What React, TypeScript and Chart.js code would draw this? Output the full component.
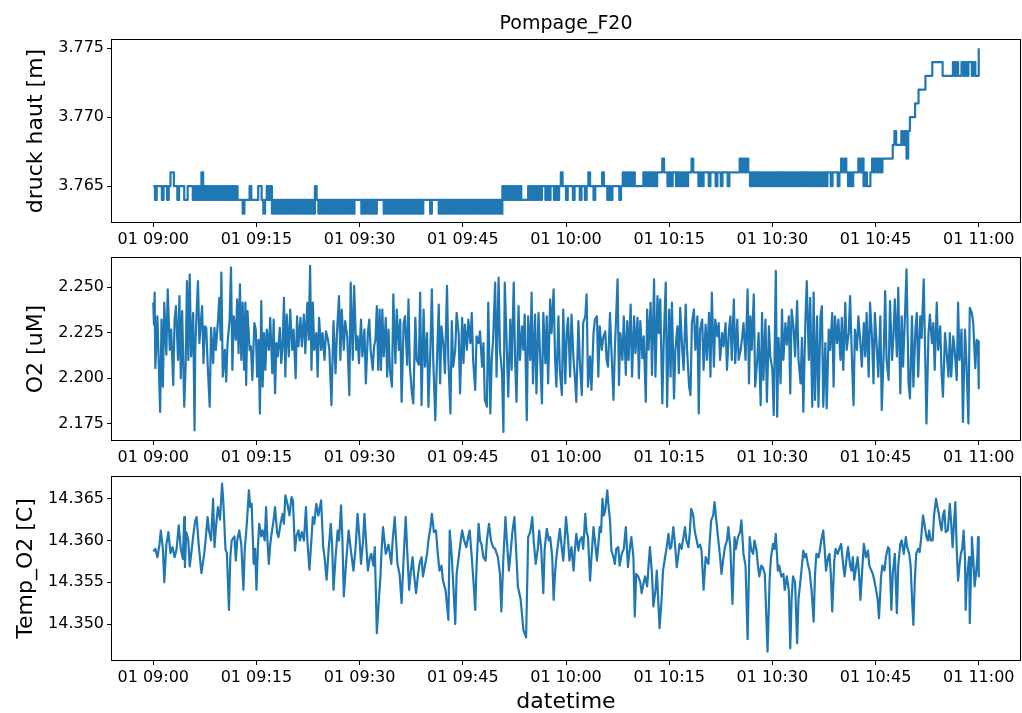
import { useEffect, useRef } from "react";
import { Chart, registerables } from "chart.js";

Chart.register(...registerables);

// ---------------- data ----------------
const chartTitle = "Pompage_F20";
const dayLabel = "01";
const startHour = 9;
const xTickMinutes = [0, 15, 30, 45, 60, 75, 90, 105, 120];

const druckLabel = "druck haut [m]";
const o2Label = "O2 [uM]";
const tempLabel = "Temp_O2 [C]";
const xLabel = "datetime";

const druckTicks = [3.765, 3.77, 3.775];
const o2Ticks = [2.175, 2.2, 2.225, 2.25];
const tempTicks = [14.35, 14.355, 14.36, 14.365];

// druck haut sampled every 15 s starting at 09:00 (one line = 2 minutes)
const druckStepMinutes = 0.25;
const druckHaut = [
  3.765, 3.764, 3.765, 3.765, 3.765, 3.764, 3.765, 3.765,
  3.764, 3.765, 3.766, 3.766, 3.765, 3.765, 3.764, 3.765,
  3.765, 3.765, 3.764, 3.764, 3.765, 3.765, 3.765, 3.764,
  3.765, 3.764, 3.765, 3.764, 3.766, 3.764, 3.765, 3.764,
  3.765, 3.764, 3.765, 3.764, 3.765, 3.764, 3.765, 3.764,
  3.765, 3.764, 3.765, 3.764, 3.765, 3.764, 3.765, 3.764,
  3.765, 3.764, 3.764, 3.764, 3.763, 3.764, 3.764, 3.764,
  3.765, 3.764, 3.764, 3.764, 3.764, 3.765, 3.765, 3.764,
  3.763, 3.764, 3.765, 3.764, 3.765, 3.763, 3.764, 3.763,
  3.764, 3.763, 3.764, 3.763, 3.764, 3.763, 3.764, 3.763,
  3.764, 3.763, 3.764, 3.763, 3.764, 3.763, 3.764, 3.763,
  3.764, 3.763, 3.764, 3.763, 3.764, 3.763, 3.765, 3.764,
  3.763, 3.764, 3.763, 3.764, 3.763, 3.764, 3.763, 3.764,
  3.763, 3.764, 3.763, 3.764, 3.763, 3.764, 3.763, 3.764,
  3.763, 3.764, 3.763, 3.764, 3.763, 3.764, 3.764, 3.764,
  3.764, 3.763, 3.764, 3.763, 3.764, 3.763, 3.764, 3.763,
  3.764, 3.763, 3.764, 3.764, 3.764, 3.764, 3.763, 3.764,
  3.763, 3.764, 3.763, 3.764, 3.763, 3.764, 3.763, 3.764,
  3.763, 3.764, 3.763, 3.764, 3.763, 3.764, 3.763, 3.764,
  3.763, 3.764, 3.763, 3.764, 3.763, 3.764, 3.764, 3.764,
  3.764, 3.763, 3.764, 3.764, 3.764, 3.764, 3.763, 3.764,
  3.763, 3.764, 3.763, 3.764, 3.763, 3.764, 3.763, 3.764,
  3.763, 3.764, 3.763, 3.764, 3.763, 3.764, 3.763, 3.764,
  3.763, 3.764, 3.763, 3.764, 3.763, 3.764, 3.763, 3.764,
  3.763, 3.764, 3.763, 3.764, 3.763, 3.764, 3.763, 3.764,
  3.763, 3.764, 3.763, 3.765, 3.764, 3.765, 3.764, 3.765,
  3.764, 3.765, 3.764, 3.765, 3.764, 3.765, 3.764, 3.764,
  3.764, 3.764, 3.765, 3.764, 3.765, 3.764, 3.765, 3.764,
  3.765, 3.764, 3.765, 3.765, 3.764, 3.765, 3.764, 3.765,
  3.765, 3.764, 3.765, 3.764, 3.765, 3.766, 3.765, 3.765,
  3.764, 3.765, 3.765, 3.765, 3.764, 3.765, 3.765, 3.765,
  3.764, 3.765, 3.765, 3.764, 3.765, 3.766, 3.765, 3.765,
  3.764, 3.765, 3.765, 3.765, 3.765, 3.766, 3.765, 3.765,
  3.764, 3.765, 3.764, 3.765, 3.765, 3.765, 3.765, 3.764,
  3.765, 3.766, 3.765, 3.766, 3.765, 3.766, 3.765, 3.766,
  3.765, 3.765, 3.765, 3.765, 3.765, 3.766, 3.765, 3.766,
  3.765, 3.766, 3.765, 3.766, 3.765, 3.766, 3.766, 3.766,
  3.767, 3.766, 3.766, 3.765, 3.766, 3.765, 3.766, 3.766,
  3.765, 3.766, 3.765, 3.766, 3.765, 3.766, 3.765, 3.766,
  3.766, 3.767, 3.766, 3.766, 3.766, 3.765, 3.766, 3.765,
  3.766, 3.766, 3.766, 3.765, 3.766, 3.766, 3.766, 3.765,
  3.766, 3.766, 3.765, 3.766, 3.766, 3.766, 3.765, 3.766,
  3.766, 3.766, 3.766, 3.766, 3.766, 3.767, 3.766, 3.767,
  3.766, 3.767, 3.766, 3.765, 3.766, 3.765, 3.766, 3.765,
  3.766, 3.765, 3.766, 3.765, 3.766, 3.765, 3.766, 3.765,
  3.766, 3.765, 3.766, 3.765, 3.766, 3.765, 3.766, 3.765,
  3.766, 3.765, 3.766, 3.765, 3.766, 3.765, 3.766, 3.765,
  3.766, 3.765, 3.766, 3.765, 3.766, 3.765, 3.766, 3.765,
  3.766, 3.765, 3.766, 3.765, 3.766, 3.765, 3.766, 3.765,
  3.766, 3.766, 3.765, 3.766, 3.766, 3.766, 3.765, 3.766,
  3.767, 3.766, 3.767, 3.766, 3.765, 3.766, 3.765, 3.766,
  3.766, 3.766, 3.767, 3.766, 3.767, 3.765, 3.766, 3.765,
  3.765, 3.766, 3.767, 3.766, 3.767, 3.766, 3.767, 3.766,
  3.767, 3.767, 3.767, 3.767, 3.767, 3.767, 3.768, 3.769,
  3.768, 3.768, 3.768, 3.769, 3.768, 3.769, 3.767, 3.769,
  3.77, 3.77, 3.77, 3.771, 3.771, 3.772, 3.772, 3.772,
  3.772, 3.773, 3.773, 3.773, 3.773, 3.774, 3.774, 3.774,
  3.774, 3.774, 3.774, 3.773, 3.773, 3.773, 3.773, 3.773,
  3.773, 3.774, 3.773, 3.774, 3.773, 3.773, 3.774, 3.773,
  3.774, 3.773, 3.774, 3.774, 3.773, 3.774, 3.773, 3.773,
  3.775,
];

const o2Minutes = [
  0.0, 0.1, 0.2, 0.3, 0.6, 1.0, 1.2, 1.4, 1.6, 1.9,
  2.1, 2.4, 2.6, 2.9, 3.1, 3.3, 3.6, 3.8, 4.0, 4.2,
  4.5, 4.7, 4.9, 5.1, 5.3, 5.5, 5.8, 6.0, 6.1, 6.3,
  6.5, 6.7, 6.9, 7.1, 7.3, 7.5, 7.7, 7.9, 8.2, 8.4,
  8.7, 8.9, 9.1, 9.4, 9.6, 9.8, 9.9, 10.1, 10.4, 10.6,
  10.8, 11.1, 11.3, 11.5, 11.7, 12.0, 12.2, 12.4, 12.6, 12.8,
  13.0, 13.2, 13.4, 13.5, 13.7, 14.0, 14.2, 14.4, 14.7, 14.9,
  15.1, 15.3, 15.5, 15.7, 15.9, 16.1, 16.3, 16.5, 16.8, 17.0,
  17.3, 17.5, 17.7, 17.9, 18.1, 18.4, 18.6, 18.8, 19.0, 19.2,
  19.4, 19.7, 19.9, 20.2, 20.4, 20.7, 20.9, 21.1, 21.4, 21.6,
  21.9, 22.1, 22.4, 22.6, 22.8, 23.0, 23.2, 23.4, 23.7, 23.9,
  24.1, 24.4, 24.6, 24.9, 25.1, 25.4, 25.6, 25.9, 26.2, 26.5,
  26.7, 27.0, 27.2, 27.4, 27.7, 27.9, 28.2, 28.5, 28.7, 29.0,
  29.2, 29.5, 29.7, 29.9, 30.2, 30.4, 30.7, 30.9, 31.2, 31.4,
  31.6, 31.9, 32.1, 32.3, 32.5, 32.7, 32.9, 33.1, 33.3, 33.5,
  33.8, 34.0, 34.2, 34.4, 34.7, 34.9, 35.2, 35.4, 35.7, 35.9,
  36.1, 36.4, 36.6, 36.9, 37.1, 37.3, 37.6, 37.8, 38.1, 38.3,
  38.6, 38.8, 39.0, 39.3, 39.5, 39.8, 40.0, 40.3, 40.5, 40.7,
  41.0, 41.2, 41.5, 41.7, 41.9, 42.2, 42.4, 42.7, 42.9, 43.2,
  43.4, 43.6, 43.9, 44.1, 44.4, 44.6, 44.9, 45.1, 45.3, 45.6,
  45.8, 46.1, 46.3, 46.5, 46.8, 47.0, 47.3, 47.5, 47.8, 48.0,
  48.2, 48.5, 48.7, 49.0, 49.2, 49.4, 49.7, 49.9, 50.2, 50.4,
  50.7, 50.9, 51.1, 51.4, 51.6, 51.9, 52.1, 52.4, 52.6, 52.8,
  53.1, 53.3, 53.6, 53.8, 54.0, 54.3, 54.5, 54.8, 55.0, 55.2,
  55.5, 55.7, 56.0, 56.5, 56.7, 57.0, 57.2, 57.4, 57.7, 57.9,
  58.2, 58.4, 58.6, 58.9, 59.1, 59.4, 59.6, 59.9, 60.1, 60.3,
  60.6, 60.8, 61.1, 61.3, 61.5, 61.8, 62.0, 62.3, 62.5, 62.8,
  63.0, 63.2, 63.5, 63.7, 64.0, 64.2, 64.5, 64.7, 64.9, 65.2,
  65.4, 65.7, 65.9, 66.1, 66.4, 66.6, 66.9, 67.1, 67.5, 67.7,
  67.9, 68.2, 68.4, 68.7, 68.9, 69.1, 69.4, 69.6, 69.9, 70.1,
  70.4, 70.6, 70.8, 71.1, 71.3, 71.6, 71.8, 72.0, 72.3, 72.5,
  72.8, 73.0, 73.3, 73.5, 73.7, 74.0, 74.2, 74.5, 74.7, 75.0,
  75.2, 75.4, 75.7, 75.9, 76.2, 76.4, 76.6, 76.9, 77.1, 77.4,
  77.6, 77.9, 78.1, 78.3, 78.6, 78.8, 79.1, 79.3, 79.5, 79.8,
  80.0, 80.3, 80.5, 80.8, 81.0, 81.2, 81.5, 81.7, 82.0, 82.2,
  82.4, 82.7, 82.9, 83.2, 83.4, 83.7, 83.9, 84.1, 84.4, 84.6,
  84.9, 85.1, 85.4, 85.6, 85.8, 86.1, 86.4, 86.6, 86.8, 87.0,
  87.3, 87.5, 87.8, 88.0, 88.3, 88.5, 88.7, 89.0, 89.2, 89.5,
  89.7, 90.0, 90.2, 90.5, 90.7, 90.9, 91.2, 91.4, 91.6, 91.9,
  92.1, 92.4, 92.6, 92.8, 93.1, 93.3, 93.6, 93.8, 94.1, 94.3,
  94.5, 94.8, 95.0, 95.3, 95.5, 95.8, 96.0, 96.2, 96.5, 96.7,
  97.0, 97.2, 97.4, 97.7, 97.9, 98.2, 98.4, 98.7, 98.9, 99.1,
  99.4, 99.6, 99.9, 100.1, 100.3, 100.6, 100.8, 101.1, 101.3, 101.6,
  101.8, 102.0, 102.3, 102.5, 102.8, 103.0, 103.3, 103.5, 103.7, 104.0,
  104.2, 104.5, 104.7, 104.9, 105.2, 105.4, 105.7, 105.9, 106.2, 106.4,
  106.6, 106.9, 107.1, 107.4, 107.6, 107.8, 108.1, 108.3, 108.6, 108.8,
  109.0, 109.3, 109.5, 109.8, 110.0, 110.3, 110.5, 110.8, 111.0, 111.2,
  111.5, 111.7, 112.0, 112.2, 112.4, 112.7, 112.9, 113.2, 113.4, 113.6,
  113.9, 114.1, 114.4, 114.6, 114.8, 115.1, 115.3, 115.6, 115.8, 116.0,
  116.3, 116.5, 116.8, 117.0, 117.2, 117.5, 117.7, 118.0, 118.2, 118.5,
  118.7, 119.0, 119.2, 119.5, 119.7, 119.9, 120.0,
];
const o2Values = [
  2.2414, 2.2294, 2.2469, 2.2055, 2.234, 2.1816, 2.2322, 2.1954, 2.2414, 2.2129,
  2.2487, 2.2156, 2.2267, 2.1963, 2.2322, 2.2395, 2.2101, 2.245, 2.2, 2.2368,
  2.1844, 2.2064, 2.2533, 2.2101, 2.257, 2.212, 2.2358, 2.1715, 2.2156, 2.2358,
  2.2533, 2.2193, 2.2303, 2.2395, 2.2083, 2.2285, 2.2276, 2.2083, 2.1844, 2.2276,
  2.2083, 2.2276, 2.2156, 2.2313, 2.2441, 2.2211, 2.2579, 2.2009, 2.2156, 2.1982,
  2.2193, 2.2322, 2.2607, 2.2046, 2.234, 2.2211, 2.2432, 2.2138, 2.2515, 2.2101,
  2.2414, 2.2046, 2.2414, 2.1963, 2.2368, 2.2156, 2.2175, 2.1991, 2.2303, 2.2267,
  2.2009, 2.2211, 2.1807, 2.2423, 2.1954, 2.2248, 2.2046, 2.2267, 2.2156, 2.2331,
  2.2028, 2.2322, 2.1917, 2.2193, 2.212, 2.2276, 2.2083, 2.2175, 2.2441, 2.2009,
  2.2349, 2.212, 2.2377, 2.2156, 2.2267, 2.2, 2.234, 2.2175, 2.2331, 2.2175,
  2.2349, 2.2138, 2.2414, 2.2211, 2.2616, 2.2046, 2.2414, 2.2156, 2.2248, 2.2009,
  2.2331, 2.2156, 2.2248, 2.2101, 2.2257, 2.2211, 2.2156, 2.1853, 2.2313, 2.2028,
  2.2248, 2.245, 2.2101, 2.2377, 2.2156, 2.2313, 2.223, 2.1908, 2.2524, 2.2101,
  2.2506, 2.2156, 2.223, 2.2083, 2.2322, 2.212, 2.2267, 2.1972, 2.2248, 2.2322,
  2.2156, 2.2046, 2.2175, 2.2211, 2.2395, 2.2046, 2.2377, 2.2046, 2.2377, 2.212,
  2.2331, 2.2009, 2.2267, 2.2046, 2.1954, 2.246, 2.2083, 2.2377, 2.2156, 2.2322,
  2.1871, 2.2303, 2.234, 2.2074, 2.2432, 2.2064, 2.1917, 2.1862, 2.2331, 2.2101,
  2.2074, 2.2469, 2.1853, 2.2377, 2.2064, 2.2248, 2.1844, 2.2175, 2.2487, 2.2101,
  2.177, 2.2046, 2.2404, 2.1972, 2.2285, 2.2175, 2.2028, 2.2506, 2.2101, 2.1807,
  2.2313, 2.2064, 2.2156, 2.2358, 2.2248, 2.1917, 2.2331, 2.2083, 2.2294, 2.2156,
  2.2322, 2.2193, 2.2358, 2.2101, 2.1936, 2.223, 2.2193, 2.2257, 2.2064, 2.2193,
  2.1881, 2.1844, 2.2414, 2.1807, 2.2101, 2.2211, 2.2524, 2.2009, 2.2551, 2.2156,
  2.2028, 2.1706, 2.2524, 2.2156, 2.1899, 2.2322, 2.2046, 2.2524, 2.2101, 2.1871,
  2.2395, 2.2101, 2.2285, 2.2156, 2.2349, 2.177, 2.234, 2.2101, 2.2469, 2.1972,
  2.2349, 2.1917, 2.2358, 2.1862, 2.2358, 2.2083, 2.234, 2.1972, 2.2432, 2.2248,
  2.2487, 2.212, 2.1954, 2.234, 2.2046, 2.1908, 2.2377, 2.1972, 2.2248, 2.2331,
  2.2009, 2.2349, 2.2101, 2.2, 2.1871, 2.2313, 2.2101, 2.1908, 2.2303, 2.234,
  2.246, 2.1954, 2.212, 2.1936, 2.2248, 2.2322, 2.234, 2.2009, 2.2285, 2.2156,
  2.2221, 2.2257, 2.2101, 2.2064, 2.2358, 2.2156, 2.1881, 2.2156, 2.2542, 2.1963,
  2.2248, 2.2101, 2.234, 2.2018, 2.2313, 2.2101, 2.2404, 2.2009, 2.234, 2.2138,
  2.2331, 2.2, 2.2313, 2.211, 2.223, 2.1871, 2.2377, 2.2156, 2.2414, 2.2018,
  2.2542, 2.2009, 2.245, 2.2248, 2.2432, 2.1862, 2.2193, 2.2524, 2.1844, 2.2377,
  2.2009, 2.2414, 2.189, 2.2156, 2.2285, 2.2028, 2.2386, 2.2156, 2.2046, 2.2404,
  2.2156, 2.1954, 2.1908, 2.2303, 2.2377, 2.2156, 2.234, 2.1807, 2.2267, 2.2322,
  2.2046, 2.2294, 2.2101, 2.2358, 2.2009, 2.2469, 2.2064, 2.2322, 2.223, 2.2303,
  2.2101, 2.2248, 2.2175, 2.2303, 2.2046, 2.2267, 2.234, 2.2101, 2.2432, 2.2083,
  2.2322, 2.2101, 2.2156, 2.2221, 2.2303, 2.2101, 2.2487, 2.1972, 2.234, 2.2156,
  2.246, 2.1954, 2.2101, 2.2248, 2.1853, 2.2358, 2.1991, 2.2322, 2.1871, 2.2285,
  2.212, 2.2046, 2.1798, 2.2588, 2.1789, 2.2221, 2.1972, 2.2377, 2.2101, 2.2303,
  2.2184, 2.234, 2.1917, 2.2377, 2.2267, 2.212, 2.2423, 2.2101, 2.1972, 2.2221,
  2.1816, 2.2313, 2.2533, 2.2101, 2.2441, 2.1844, 2.2469, 2.1881, 2.234, 2.1844,
  2.234, 2.2395, 2.1844, 2.2193, 2.1835, 2.2267, 2.2156, 2.2358, 2.1954, 2.234,
  2.2193, 2.2322, 2.2101, 2.2331, 2.2046, 2.2414, 2.2156, 2.2248, 2.245, 2.2064,
  2.1853, 2.2267, 2.2156, 2.234, 2.2193, 2.2064, 2.2303, 2.212, 2.2358, 2.2009,
  2.2414, 2.2211, 2.1972, 2.2358, 2.2156, 2.2009, 2.234, 2.1826, 2.2156, 2.2478,
  2.2101, 2.1991, 2.2423, 2.2101, 2.223, 2.2432, 2.212, 2.2496, 2.1917, 2.234,
  2.2064, 2.2368, 2.2597, 2.1972, 2.189, 2.234, 2.1954, 2.2267, 2.2358, 2.2009,
  2.234, 2.2221, 2.2542, 2.2156, 2.1752, 2.2248, 2.2349, 2.2193, 2.2303, 2.2046,
  2.2414, 2.2156, 2.2285, 2.2028, 2.1899, 2.2248, 2.2156, 2.2009, 2.2248, 2.2009,
  2.223, 2.2156, 2.1991, 2.2414, 2.2101, 2.2267, 2.1761, 2.2267, 2.2101, 2.1752,
  2.2386, 2.2358, 2.2303, 2.2055, 2.2211, 2.2202, 2.1945,
];

const tempMinutes = [
  0.0, 0.3, 0.6, 0.9, 1.1, 1.4, 1.6, 1.9, 2.2, 2.5,
  2.8, 3.1, 3.4, 3.7, 4.0, 4.3, 4.5, 4.6, 4.8, 5.1,
  5.3, 5.6, 5.8, 6.1, 6.3, 6.6, 7.0, 7.4, 7.6, 7.9,
  8.1, 8.4, 8.7, 8.9, 9.1, 9.4, 9.7, 10.0, 10.2, 10.5,
  10.7, 11.0, 11.2, 11.4, 11.8, 12.0, 12.2, 12.5, 12.8, 13.1,
  13.3, 13.6, 13.9, 14.1, 14.3, 14.6, 14.8, 15.0, 15.2, 15.4,
  15.7, 15.9, 16.2, 16.4, 16.6, 16.8, 17.0, 17.2, 17.5, 17.7,
  18.0, 18.2, 18.5, 18.8, 19.0, 19.2, 19.5, 19.8, 20.1, 20.3,
  20.6, 20.8, 21.1, 21.3, 21.6, 21.9, 22.2, 22.4, 22.7, 22.9,
  23.2, 23.4, 23.7, 24.0, 24.4, 24.7, 24.9, 25.2, 25.5, 25.8,
  26.0, 26.2, 26.5, 26.8, 27.0, 27.3, 27.5, 27.7, 28.0, 28.4,
  28.7, 29.1, 29.4, 29.7, 30.0, 30.2, 30.5, 30.7, 31.0, 31.2,
  31.5, 31.7, 32.0, 32.2, 32.5, 32.8, 33.0, 33.2, 33.4, 33.6,
  33.8, 34.2, 34.6, 34.8, 35.1, 35.3, 35.5, 35.8, 36.1, 36.4,
  36.7, 36.9, 37.2, 37.4, 37.7, 37.9, 38.2, 38.5, 38.7, 39.0,
  39.2, 39.5, 39.8, 40.0, 40.3, 40.5, 40.8, 41.1, 41.3, 41.6,
  41.9, 42.1, 42.5, 42.9, 43.1, 43.4, 43.6, 43.9, 44.1, 44.4,
  44.7, 44.9, 45.2, 45.5, 45.8, 46.0, 46.3, 46.6, 46.8, 47.0,
  47.3, 47.5, 47.7, 48.0, 48.3, 48.5, 48.8, 49.1, 49.4, 49.7,
  50.1, 50.4, 50.6, 50.9, 51.2, 51.4, 51.7, 52.0, 52.2, 52.5,
  52.8, 53.0, 53.4, 53.8, 54.2, 54.5, 54.8, 55.1, 55.3, 55.6,
  55.9, 56.1, 56.4, 56.7, 56.9, 57.2, 57.5, 57.7, 58.0, 58.2,
  58.4, 58.6, 58.9, 59.1, 59.4, 59.6, 59.8, 60.0, 60.3, 60.5,
  60.8, 61.1, 61.3, 61.5, 61.8, 62.0, 62.3, 62.5, 62.8, 63.0,
  63.2, 63.5, 63.7, 64.0, 64.2, 64.5, 64.7, 64.9, 65.1, 65.3,
  65.5, 65.7, 66.0, 66.2, 66.4, 66.6, 66.9, 67.1, 67.3, 67.6,
  67.8, 68.1, 68.4, 68.7, 69.0, 69.2, 69.5, 69.8, 70.0, 70.2,
  70.5, 70.8, 71.0, 71.3, 71.5, 71.8, 72.0, 72.2, 72.5, 72.7,
  73.0, 73.2, 73.4, 73.6, 73.9, 74.1, 74.4, 74.6, 74.9, 75.1,
  75.3, 75.6, 75.8, 76.1, 76.3, 76.5, 76.8, 77.0, 77.3, 77.5,
  77.8, 78.0, 78.2, 78.5, 78.7, 79.0, 79.2, 79.5, 79.7, 80.0,
  80.3, 80.7, 80.9, 81.1, 81.4, 81.6, 81.9, 82.1, 82.4, 82.6,
  82.9, 83.1, 83.4, 83.6, 83.9, 84.2, 84.5, 84.7, 85.0, 85.3,
  85.5, 85.8, 86.1, 86.4, 86.7, 86.9, 87.2, 87.4, 87.7, 87.9,
  88.1, 88.4, 88.6, 88.9, 89.3, 89.6, 89.8, 90.1, 90.3, 90.5,
  90.8, 91.0, 91.3, 91.6, 91.8, 92.1, 92.4, 92.6, 92.8, 93.0,
  93.3, 93.6, 93.8, 94.0, 94.3, 94.5, 94.7, 94.9, 95.2, 95.4,
  95.7, 96.0, 96.2, 96.4, 96.7, 96.9, 97.1, 97.4, 97.6, 97.8,
  98.1, 98.3, 98.5, 98.7, 99.0, 99.2, 99.5, 99.8, 100.0, 100.3,
  100.5, 100.8, 101.0, 101.3, 101.5, 101.7, 101.9, 102.2, 102.4, 102.6,
  102.8, 103.1, 103.3, 103.6, 103.9, 104.1, 104.4, 104.6, 104.8, 105.1,
  105.3, 105.5, 105.8, 106.0, 106.3, 106.5, 106.8, 107.0, 107.3, 107.5,
  107.8, 108.1, 108.3, 108.6, 108.8, 109.1, 109.4, 109.6, 109.9, 110.1,
  110.3, 110.5, 110.7, 110.9, 111.2, 111.4, 111.6, 111.9, 112.1, 112.4,
  112.6, 112.8, 113.0, 113.3, 113.5, 113.8, 114.0, 114.2, 114.4, 114.6,
  114.8, 115.0, 115.2, 115.5, 115.8, 116.0, 116.2, 116.4, 116.6, 116.8,
  117.0, 117.2, 117.4, 117.6, 117.8, 118.0, 118.1, 118.3, 118.4, 118.6,
  118.7, 118.9, 119.0, 119.2, 119.4, 119.6, 119.8, 119.9, 120.0,
];
const tempValues = [
  14.3587, 14.359, 14.358, 14.3595, 14.3612, 14.359, 14.355, 14.3595, 14.361, 14.3585,
  14.3592, 14.358, 14.359, 14.3618, 14.359, 14.3578, 14.3628, 14.3568, 14.361, 14.36,
  14.3569, 14.359, 14.3605, 14.3624, 14.3628, 14.3595, 14.3561, 14.3584, 14.36, 14.3628,
  14.3612, 14.36, 14.365, 14.3592, 14.3615, 14.364, 14.3625, 14.3668, 14.3644, 14.3589,
  14.3585, 14.3517, 14.358, 14.36, 14.3605, 14.3576, 14.36, 14.3612, 14.3595, 14.3541,
  14.359, 14.362, 14.366, 14.364, 14.3644, 14.3572, 14.359, 14.3541, 14.359, 14.362,
  14.3605, 14.3612, 14.36, 14.364, 14.36, 14.3572, 14.3595, 14.3608, 14.3625, 14.364,
  14.361, 14.3604, 14.362, 14.3632, 14.362, 14.3654, 14.3644, 14.363, 14.3652, 14.3648,
  14.3588, 14.3605, 14.3612, 14.36, 14.361, 14.36, 14.364, 14.36, 14.3565, 14.359,
  14.3628, 14.362, 14.3644, 14.363, 14.3648, 14.3592, 14.358, 14.3553, 14.359, 14.362,
  14.3595, 14.3541, 14.358, 14.3612, 14.36, 14.3642, 14.36, 14.3533, 14.357, 14.3612,
  14.359, 14.3564, 14.359, 14.3632, 14.36, 14.3572, 14.36, 14.3632, 14.359, 14.3564,
  14.358, 14.3584, 14.357, 14.3592, 14.3489, 14.353, 14.3553, 14.359, 14.3616, 14.36,
  14.3584, 14.3595, 14.3572, 14.36, 14.3628, 14.36, 14.3572, 14.356, 14.3525, 14.358,
  14.3628, 14.359, 14.3541, 14.356, 14.358, 14.356, 14.3537, 14.356, 14.3572, 14.358,
  14.3557, 14.357, 14.3584, 14.36, 14.3616, 14.3632, 14.361, 14.3612, 14.359, 14.3564,
  14.357, 14.3553, 14.354, 14.3505, 14.3612, 14.358, 14.3549, 14.35, 14.356, 14.358,
  14.36, 14.3612, 14.36, 14.3592, 14.3605, 14.3612, 14.358, 14.3545, 14.3517, 14.357,
  14.362, 14.36, 14.3596, 14.358, 14.3576, 14.36, 14.362, 14.36, 14.3592, 14.359,
  14.358, 14.356, 14.3515, 14.358, 14.3628, 14.36, 14.3564, 14.359, 14.361, 14.3628,
  14.358, 14.3545, 14.353, 14.3493, 14.3484, 14.3604, 14.361, 14.3628, 14.36, 14.3572,
  14.359, 14.3612, 14.359, 14.3537, 14.359, 14.3614, 14.36, 14.3604, 14.358, 14.3529,
  14.356, 14.358, 14.36, 14.3614, 14.359, 14.3576, 14.36, 14.3628, 14.36, 14.3576,
  14.3592, 14.3564, 14.359, 14.3608, 14.3588, 14.36, 14.3604, 14.359, 14.3632, 14.361,
  14.3604, 14.3552, 14.358, 14.3616, 14.36, 14.3576, 14.3595, 14.3616, 14.361, 14.365,
  14.363, 14.3636, 14.366, 14.364, 14.3624, 14.3588, 14.358, 14.3572, 14.359, 14.3592,
  14.357, 14.3584, 14.359, 14.3616, 14.3568, 14.3585, 14.3604, 14.358, 14.3509, 14.356,
  14.3557, 14.355, 14.3537, 14.355, 14.3557, 14.3545, 14.357, 14.3592, 14.356, 14.3521,
  14.354, 14.3564, 14.353, 14.3495, 14.353, 14.3564, 14.358, 14.359, 14.3608, 14.359,
  14.3592, 14.3616, 14.36, 14.3568, 14.358, 14.3596, 14.359, 14.36, 14.3616, 14.36,
  14.3592, 14.361, 14.3638, 14.363, 14.3612, 14.36, 14.3592, 14.3595, 14.3588, 14.3541,
  14.358, 14.3572, 14.36, 14.3624, 14.363, 14.3646, 14.362, 14.3604, 14.358, 14.356,
  14.358, 14.3592, 14.36, 14.3616, 14.359, 14.3524, 14.3604, 14.359, 14.3604, 14.361,
  14.3624, 14.3584, 14.357, 14.3482, 14.3604, 14.359, 14.3584, 14.36, 14.3588, 14.357,
  14.3557, 14.357, 14.3568, 14.356, 14.3467, 14.3553, 14.358, 14.3596, 14.359, 14.3608,
  14.3564, 14.357, 14.3557, 14.356, 14.3541, 14.3557, 14.354, 14.3471, 14.353, 14.3557,
  14.355, 14.3477, 14.353, 14.3545, 14.357, 14.3588, 14.358, 14.3584, 14.357, 14.3564,
  14.354, 14.3503, 14.356, 14.3584, 14.358, 14.3588, 14.36, 14.3612, 14.359, 14.3564,
  14.358, 14.3584, 14.356, 14.3515, 14.3576, 14.359, 14.3584, 14.3592, 14.3596, 14.357,
  14.3557, 14.358, 14.3592, 14.357, 14.3564, 14.358, 14.3553, 14.357, 14.358, 14.356,
  14.3529, 14.357, 14.3596, 14.358, 14.3588, 14.357, 14.3564, 14.356, 14.3553, 14.354,
  14.353, 14.3507, 14.3557, 14.357, 14.3564, 14.358, 14.3592, 14.359, 14.3517, 14.356,
  14.3584, 14.3513, 14.357, 14.3596, 14.36, 14.3584, 14.3604, 14.3592, 14.3584, 14.357,
  14.353, 14.3499, 14.355, 14.3584, 14.359, 14.3586, 14.36, 14.363, 14.362, 14.3604,
  14.36, 14.3612, 14.36, 14.36, 14.363, 14.365, 14.364, 14.3632, 14.362, 14.3612,
  14.363, 14.3636, 14.361, 14.3612, 14.3644, 14.362, 14.3592, 14.362, 14.3646, 14.359,
  14.3552, 14.357, 14.3584, 14.359, 14.3612, 14.358, 14.3517, 14.356, 14.3564, 14.358,
  14.3501, 14.357, 14.3604, 14.358, 14.3545, 14.356, 14.358, 14.3604, 14.3557,
];

// ---------------- styling ----------------
const FONT = "'DejaVu Sans', 'Liberation Sans', sans-serif";
const LINE_COLOR = "#1f77b4";
const PLOT_LEFT = 112;
const PLOT_RIGHT_PAD = 2;

function minuteLabel(v: number): string {
  const total = Math.round(v);
  const h = startHour + Math.floor(total / 60);
  const m = total % 60;
  return `${dayLabel} ${String(h).padStart(2, "0")}:${String(m).padStart(2, "0")}`;
}

const framePlugin = {
  id: "frame",
  afterDraw(chart: any) {
    const { ctx, chartArea } = chart;
    ctx.save();
    ctx.strokeStyle = "#000";
    ctx.lineWidth = 1;
    ctx.strokeRect(
      Math.round(chartArea.left) - 0.5,
      Math.round(chartArea.top) - 0.5,
      Math.round(chartArea.right - chartArea.left) + 1,
      Math.round(chartArea.bottom - chartArea.top) + 1
    );
    ctx.restore();
  },
};

type PanelOpts = {
  points: { x: number; y: number }[];
  stepped: boolean;
  yMin: number;
  yMax: number;
  yTicks: number[];
  yLabel: string;
  yTitlePad: number;
  padTop: number;
  xAxisHeight: number;
  showTitle: boolean;
  showXLabel: boolean;
};

function makeConfig(o: PanelOpts): any {
  const tickFont = { family: FONT, size: 16 };
  const grid = {
    drawOnChartArea: false,
    drawTicks: true,
    tickLength: 5,
    tickColor: "#000",
    tickWidth: 1,
  };
  return {
    type: "line",
    data: {
      datasets: [
        {
          data: o.points,
          borderColor: LINE_COLOR,
          borderWidth: 2.2,
          pointRadius: 0,
          tension: 0,
          stepped: o.stepped,
          fill: false,
          borderJoinStyle: "round",
        },
      ],
    },
    options: {
      responsive: false,
      animation: false,
      events: [],
      layout: { padding: { top: o.padTop, right: PLOT_RIGHT_PAD, left: 0, bottom: 0 } },
      plugins: {
        legend: { display: false },
        tooltip: { enabled: false },
        title: {
          display: o.showTitle,
          text: chartTitle,
          fullSize: false,
          color: "#000",
          font: { family: FONT, size: 19, weight: "normal", lineHeight: 1 },
          padding: { top: 14.6, bottom: 6.4 },
        },
      },
      scales: {
        x: {
          type: "linear",
          min: -6,
          max: 126,
          afterBuildTicks: (axis: any) => {
            axis.ticks = xTickMinutes.map((v) => ({ value: v }));
          },
          afterFit: (s: any) => {
            s.height = o.xAxisHeight;
            s.paddingLeft = 0;
            s.paddingRight = 0;
          },
          ticks: {
            callback: (v: number) => minuteLabel(v),
            autoSkip: false,
            maxRotation: 0,
            minRotation: 0,
            color: "#000",
            font: tickFont,
            padding: 3,
          },
          grid,
          border: { display: false },
          title: {
            display: o.showXLabel,
            text: xLabel,
            color: "#000",
            font: { family: FONT, size: 22, lineHeight: 1 },
            padding: { top: 0, bottom: 0 },
          },
        },
        y: {
          type: "linear",
          min: o.yMin,
          max: o.yMax,
          afterBuildTicks: (axis: any) => {
            axis.ticks = o.yTicks.map((v) => ({ value: v }));
          },
          afterFit: (s: any) => {
            s.width = PLOT_LEFT;
            s.paddingTop = 0;
            s.paddingBottom = 0;
          },
          ticks: {
            callback: (v: number) => Number(v).toFixed(3),
            color: "#000",
            font: tickFont,
            padding: 3,
          },
          grid,
          border: { display: false },
          title: {
            display: true,
            text: o.yLabel,
            color: "#000",
            font: { family: FONT, size: 22, lineHeight: 1 },
            padding: { top: o.yTitlePad, bottom: 0 },
          },
        },
      },
    },
    plugins: [framePlugin],
  };
}

export default function App() {
  const c1 = useRef<HTMLCanvasElement>(null);
  const c2 = useRef<HTMLCanvasElement>(null);
  const c3 = useRef<HTMLCanvasElement>(null);

  useEffect(() => {
    Chart.defaults.font.family = FONT;
    const druckPoints = druckHaut.map((v, i) => ({ x: i * druckStepMinutes, y: v }));
    const o2Points = o2Minutes.map((m, i) => ({ x: m, y: o2Values[i] }));
    const tempPoints = tempMinutes.map((m, i) => ({ x: m, y: tempValues[i] }));

    const charts: Chart[] = [];
    if (c1.current)
      charts.push(
        new Chart(
          c1.current,
          makeConfig({
            points: druckPoints,
            stepped: true,
            yMin: 3.7624,
            yMax: 3.7756,
            yTicks: druckTicks,
            yLabel: druckLabel,
            yTitlePad: 25.5,
            padTop: 0,
            xAxisHeight: 28,
            showTitle: true,
            showXLabel: false,
          })
        )
      );
    if (c2.current)
      charts.push(
        new Chart(
          c2.current,
          makeConfig({
            points: o2Points,
            stepped: false,
            yMin: 2.1662,
            yMax: 2.2659,
            yTicks: o2Ticks,
            yLabel: o2Label,
            yTitlePad: 25.5,
            padTop: 8,
            xAxisHeight: 28,
            showTitle: false,
            showXLabel: false,
          })
        )
      );
    if (c3.current)
      charts.push(
        new Chart(
          c3.current,
          makeConfig({
            points: tempPoints,
            stepped: false,
            yMin: 14.3457,
            yMax: 14.3676,
            yTicks: tempTicks,
            yLabel: tempLabel,
            yTitlePad: 15.5,
            padTop: 9,
            xAxisHeight: 53,
            showTitle: false,
            showXLabel: true,
          })
        )
      );
    return () => {
      charts.forEach((c) => c.destroy());
    };
  }, []);

  const abs = (top: number): React.CSSProperties => ({
    position: "absolute",
    left: 0,
    top,
    display: "block",
  });

  return (
    <div
      style={{
        position: "absolute",
        left: 0,
        top: 0,
        width: 1022,
        height: 713,
        background: "#fff",
        overflow: "hidden",
      }}
    >
      <canvas ref={c1} width={1022} height={250} style={abs(0)} />
      <canvas ref={c2} width={1022} height={218} style={abs(250)} />
      <canvas ref={c3} width={1022} height={245} style={abs(468)} />
    </div>
  );
}
